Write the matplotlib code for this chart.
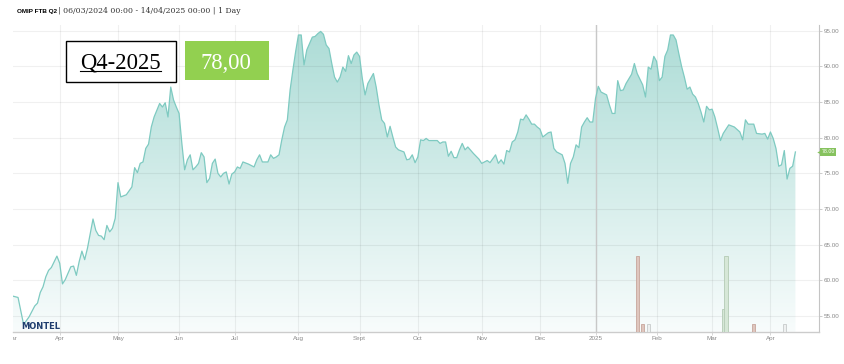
import numpy as np
import matplotlib
matplotlib.use('Agg')
import matplotlib.pyplot as plt
from matplotlib.colors import LinearSegmentedColormap
from matplotlib.patches import PathPatch, Rectangle
from matplotlib.lines import Line2D
from matplotlib.ticker import FormatStrFormatter
from matplotlib.transforms import Bbox

# trading calendar (axis is ordinal: one slot per trading day)
holidays = ['2024-03-29', '2024-04-01', '2024-05-01',
            '2024-12-25', '2024-12-26', '2025-01-01']

dates = [
    '2024-03-06', '2024-03-08', '2024-03-12', '2024-03-14', '2024-03-18', '2024-03-19',
    '2024-03-20', '2024-03-21', '2024-03-22', '2024-03-25', '2024-03-26', '2024-03-28',
    '2024-04-02', '2024-04-03', '2024-04-04', '2024-04-08', '2024-04-09', '2024-04-10',
    '2024-04-11', '2024-04-12', '2024-04-15', '2024-04-16', '2024-04-18', '2024-04-19',
    '2024-04-22', '2024-04-23', '2024-04-24', '2024-04-25', '2024-04-26', '2024-04-29',
    '2024-04-30',
    '2024-05-02', '2024-05-03', '2024-05-07', '2024-05-09', '2024-05-10', '2024-05-13',
    '2024-05-14', '2024-05-15', '2024-05-16', '2024-05-17', '2024-05-20', '2024-05-21',
    '2024-05-23', '2024-05-24', '2024-05-27', '2024-05-28', '2024-05-29', '2024-05-30',
    '2024-05-31',
    '2024-06-03', '2024-06-04', '2024-06-05', '2024-06-06', '2024-06-07', '2024-06-10',
    '2024-06-11', '2024-06-12', '2024-06-13', '2024-06-14', '2024-06-17', '2024-06-18',
    '2024-06-19', '2024-06-20', '2024-06-21', '2024-06-24', '2024-06-25', '2024-06-26',
    '2024-06-27', '2024-06-28',
    '2024-07-01', '2024-07-02', '2024-07-03', '2024-07-04', '2024-07-08', '2024-07-10',
    '2024-07-11', '2024-07-12', '2024-07-15', '2024-07-17', '2024-07-18', '2024-07-19',
    '2024-07-22', '2024-07-23', '2024-07-24', '2024-07-25', '2024-07-26', '2024-07-29',
    '2024-07-30', '2024-07-31',
    '2024-08-01', '2024-08-02', '2024-08-05', '2024-08-06', '2024-08-07', '2024-08-08',
    '2024-08-09', '2024-08-12', '2024-08-13', '2024-08-14', '2024-08-15', '2024-08-16',
    '2024-08-19', '2024-08-20', '2024-08-21', '2024-08-22', '2024-08-23', '2024-08-26',
    '2024-08-27', '2024-08-28', '2024-08-29', '2024-08-30',
    '2024-09-02', '2024-09-03', '2024-09-04', '2024-09-05', '2024-09-09', '2024-09-10',
    '2024-09-11', '2024-09-12', '2024-09-13', '2024-09-16', '2024-09-17', '2024-09-18',
    '2024-09-19', '2024-09-20', '2024-09-24', '2024-09-25', '2024-09-26', '2024-09-27',
    '2024-09-30',
    '2024-10-01', '2024-10-02', '2024-10-03', '2024-10-04', '2024-10-07', '2024-10-10',
    '2024-10-11', '2024-10-14', '2024-10-15', '2024-10-16', '2024-10-17', '2024-10-18',
    '2024-10-21', '2024-10-22', '2024-10-23', '2024-10-24', '2024-10-25', '2024-10-29',
    '2024-10-31',
    '2024-11-01', '2024-11-05', '2024-11-06', '2024-11-08', '2024-11-11', '2024-11-12',
    '2024-11-13', '2024-11-14', '2024-11-15', '2024-11-18', '2024-11-19', '2024-11-20',
    '2024-11-21', '2024-11-22', '2024-11-25', '2024-11-26', '2024-11-27', '2024-11-28',
    '2024-11-29',
    '2024-12-02', '2024-12-03', '2024-12-05', '2024-12-06', '2024-12-09', '2024-12-10',
    '2024-12-12', '2024-12-13', '2024-12-16', '2024-12-17', '2024-12-18', '2024-12-19',
    '2024-12-20', '2024-12-23', '2024-12-24', '2024-12-27', '2024-12-30', '2024-12-31',
    '2025-01-02', '2025-01-03', '2025-01-06', '2025-01-08', '2025-01-09', '2025-01-10',
    '2025-01-13', '2025-01-14', '2025-01-15', '2025-01-16', '2025-01-17', '2025-01-21',
    '2025-01-22', '2025-01-23', '2025-01-24', '2025-01-27', '2025-01-28', '2025-01-29',
    '2025-01-30', '2025-01-31',
    '2025-02-03', '2025-02-04', '2025-02-05', '2025-02-06', '2025-02-07', '2025-02-10',
    '2025-02-11', '2025-02-12', '2025-02-13', '2025-02-14', '2025-02-17', '2025-02-18',
    '2025-02-19', '2025-02-20', '2025-02-21', '2025-02-24', '2025-02-25', '2025-02-26',
    '2025-02-27', '2025-02-28',
    '2025-03-03', '2025-03-04', '2025-03-05', '2025-03-06', '2025-03-07', '2025-03-11',
    '2025-03-13', '2025-03-17', '2025-03-18', '2025-03-19', '2025-03-20', '2025-03-24',
    '2025-03-25', '2025-03-27', '2025-03-28', '2025-03-31',
    '2025-04-01', '2025-04-02', '2025-04-03', '2025-04-04', '2025-04-07', '2025-04-08',
    '2025-04-09', '2025-04-10', '2025-04-11', '2025-04-14',
]

prices = [
    57.8, 57.6, 53.8, 54.9, 56.4, 56.8, 58.3, 59.1, 60.5, 61.4, 61.8, 63.4,
    62.4, 59.5, 60.1, 61.9, 62.0, 60.7, 62.6, 64.1, 62.9, 64.5, 68.6, 67.0,
    66.3, 66.2, 65.7, 67.7, 66.8, 67.3, 68.7,
    73.7, 71.7, 72.0, 73.1, 75.8, 75.1, 76.4, 76.6, 78.5, 79.1, 81.5, 82.9,
    84.8, 84.3, 84.9, 82.9, 87.1, 85.3, 84.3,
    83.4, 79.2, 75.5, 76.9, 77.6, 75.5, 75.9, 76.4, 77.9, 77.3, 73.7, 74.3,
    76.4, 77.0, 75.0, 74.5, 75.0, 75.2, 73.5, 74.9,
    75.2, 75.9, 75.7, 76.6, 76.3, 75.9, 76.9, 77.6, 76.6, 76.6, 77.6, 77.1,
    77.3, 77.6, 79.7, 81.5, 82.5, 86.7, 89.5, 92.1,
    94.4, 94.4, 90.2, 92.3, 93.2, 94.1, 94.2, 94.6, 94.9, 94.5, 93.0, 92.5,
    90.4, 88.5, 87.8, 88.5, 89.9, 89.3, 91.5, 90.4, 91.6, 92.0,
    91.4, 88.3, 86.0, 87.6, 89.0, 87.1, 84.6, 82.5, 82.0, 80.1, 81.6, 80.1,
    78.7, 78.3, 78.0, 76.9, 77.0, 77.6, 76.5,
    77.3, 79.7, 79.6, 79.9, 79.6, 79.6, 79.2, 79.4, 79.4, 77.4, 78.1, 77.2,
    77.2, 78.3, 79.2, 78.3, 78.7, 77.8, 77.0,
    76.4, 76.8, 76.5, 77.6, 76.4, 76.9, 76.3, 78.2, 78.0, 79.4, 79.7, 80.8,
    82.6, 82.5, 83.2, 82.6, 81.9, 81.9, 81.5,
    81.2, 80.1, 80.7, 80.8, 78.5, 78.0, 77.6, 76.4, 73.6, 76.4, 77.3, 79.0,
    78.6, 81.5, 82.2, 82.8, 82.2, 82.2,
    85.5, 87.2, 86.4, 86.0, 84.6, 83.4, 83.4, 88.0, 86.6, 86.7, 87.6, 88.9,
    90.4, 89.0, 88.2, 87.4, 85.7, 89.9, 89.6, 91.4,
    90.7, 88.0, 88.5, 91.4, 92.3, 94.4, 94.4, 93.7, 91.8, 90.0, 88.5, 86.8,
    87.1, 86.1, 85.7, 84.8, 83.6, 82.2, 84.4, 83.9,
    84.0, 82.9, 81.3, 79.6, 80.6, 81.8, 81.5, 80.8, 79.7, 82.5, 81.9, 81.9,
    80.6, 80.5, 80.6, 79.8,
    80.8, 79.9, 78.5, 76.0, 76.2, 78.2, 74.2, 75.7, 76.0, 78.0,
]

# traded volume bars (relative units)
vol_dates = ['2025-01-23', '2025-01-27', '2025-01-29', '2025-03-07',
             '2025-03-10', '2025-03-24', '2025-04-08']
volumes = [10, 1, 1, 3, 10, 1, 1]
vol_side = ['sell', 'sell', 'other', 'buy', 'buy', 'sell', 'other']

month_starts = ['2024-04-01', '2024-05-01', '2024-06-01', '2024-07-01', '2024-08-01',
                '2024-09-01', '2024-10-01', '2024-11-01', '2024-12-01', '2025-01-01',
                '2025-02-01', '2025-03-01', '2025-04-01']
month_labels = ['Apr', 'May', 'Jun', 'Jul', 'Aug', 'Sept', 'Oct', 'Nov', 'Dec',
                '2025', 'Feb', 'Mar', 'Apr']

contract = 'Q4-2025'
last_price = '78,00'
title_bold = 'OMIP FTB Q2'
title_rest = '| 06/03/2024 00:00 - 14/04/2025 00:00 | 1 Day'


def trading_index(d):
    d = np.array(d, dtype='datetime64[D]')
    return np.busday_count(np.datetime64(dates[0]), d, holidays=holidays)


x = trading_index(dates)
vx = trading_index(vol_dates)
first_days = np.busday_offset(np.array(month_starts, dtype='datetime64[D]'), 0,
                              roll='forward', holidays=holidays)
tick_x = np.busday_count(np.datetime64(dates[0]), first_days, holidays=holidays)

W, H = 844, 364
fig = plt.figure(figsize=(W / 100, H / 100), dpi=100)
ax = fig.add_axes([12.5 / W, (H - 331.7) / H, (819 - 12.5) / W, (331.7 - 25) / H])
# volume bars live on their own hidden scale
ax2 = ax.twinx()

ymin, ymax = 52.8, 95.8
xmax = 290.5

# gradient area under the line
fill = ax.fill_between(x, prices, ymin, facecolor='none', edgecolor='none')
clip = PathPatch(fill.get_paths()[0], transform=ax.transData,
                 facecolor='none', edgecolor='none')
ax.add_patch(clip)
cmap = LinearSegmentedColormap.from_list('area', ['#f8fcfc', '#acdcd6'])
grad = np.linspace(0, 1, 256).reshape(-1, 1)
img = ax.imshow(grad, extent=[x[0], x[-1], ymin, ymax], origin='lower',
                aspect='auto', cmap=cmap, zorder=1)
img.set_clip_path(clip)

ax.plot(x, prices, color='#7ecac1', lw=0.9, zorder=3)
ax.axvline(tick_x[month_labels.index('2025')], color='#c8c8c8', lw=1.0, zorder=2.6)

ax.set_xlim(0, xmax)
ax.set_ylim(ymin, ymax)

ax.set_xticks(tick_x)
ax.set_xticklabels(month_labels)
ax.set_yticks(range(55, 96, 5))
ax.yaxis.set_major_formatter(FormatStrFormatter('%.2f'))
ax.yaxis.tick_right()
ax.grid(True, color='black', alpha=0.06, lw=0.8)
ax.set_axisbelow(False)

for s in ['top', 'left']:
    ax.spines[s].set_visible(False)
ax.spines['right'].set_color('#c4c4c4')
ax.spines['right'].set_linewidth(0.8)
ax.spines['bottom'].set_color('#cccccc')
ax.spines['bottom'].set_linewidth(1.0)

ax.tick_params(axis='y', length=2, width=0.6, color='#c4c4c4', pad=1.5,
               labelsize=4.5, labelcolor='#8a8a8a')
ax.tick_params(axis='x', length=2, width=0.6, color='#d0d0d0', pad=0.8,
               labelsize=4.5, labelcolor='#8a8a8a')
for t in ax.get_xticklabels() + ax.yaxis.get_ticklabels(which='major'):
    t.set_family('Liberation Sans')
for tk in ax.yaxis.get_major_ticks():
    tk.label2.set_family('Liberation Sans')

ax2.set_ylim(0, 40.4)
ax2.axis('off')
side_colors = {'sell': ('#dfc6be', '#c7a69c'),
               'buy': ('#d6e7d7', '#b4cbb5'),
               'other': ('#eef0f0', '#c6caca')}
for bx, bv, bs in zip(vx, volumes, vol_side):
    fc, ec = side_colors[bs]
    ax2.bar(bx, bv, width=1.1, color=fc, edgecolor=ec, lw=0.6)
ax2.set_xlim(0, xmax)

# last price tag on the right axis
ax.annotate(f'{prices[-1]:.2f}', xy=(1, prices[-1]), xycoords=('axes fraction', 'data'),
            xytext=(9, 0), textcoords='offset pixels', ha='center', va='center',
            fontsize=3.8, color='white', family='Liberation Sans',
            bbox=dict(boxstyle='square,pad=0.25', fc='#86c25e', ec='none'),
            annotation_clip=False, zorder=5)
ax.plot([1.0], [prices[-1]], marker='<', ms=3.2, color='#86c25e', mec='none',
        transform=ax.get_yaxis_transform(), clip_on=False, zorder=5)

# partially hidden "Mar" label at the far left
mar = fig.text(17.5 / W, (H - 335.6) / H, 'Mar', ha='right', va='top',
               fontsize=4.5, color='#8a8a8a', family='Liberation Sans')
mar.set_clip_box(Bbox.from_extents(12.5, 0, W, H))
mar.set_clip_on(True)

# header
tb = fig.text(17 / W, (H - 11) / H, title_bold, fontsize=4.6, fontweight='bold',
              family='Liberation Sans', va='center', ha='left')
fig.canvas.draw()
bb = tb.get_window_extent()
fig.text((bb.x1 + 1.5) / W, (H - 11) / H, title_rest, fontsize=5.6,
         family='DejaVu Serif', va='center', ha='left', color='#333333')

# MONTEL logo text
fig.text(21.7 / W, (H - 326.3) / H, 'MONTEL', fontsize=6, fontweight='bold',
         family='DejaVu Sans', color='#1f3d6e', va='center', ha='left')

# contract label box and price box
fig.patches.append(Rectangle((66 / W, (H - 82.3) / H), 109.7 / W, 41.3 / H,
                             transform=fig.transFigure, facecolor='white',
                             edgecolor='black', lw=1.0, zorder=4))
fig.patches.append(Rectangle((185 / W, (H - 80) / H), 83.7 / W, 39 / H,
                             transform=fig.transFigure, facecolor='#92d050',
                             edgecolor='none', zorder=4))
tq = fig.text(120.8 / W, (H - 69) / H, contract, fontsize=16.3, family='Liberation Serif',
              ha='center', va='baseline', color='black', zorder=5)
fig.text(226.0 / W, (H - 69) / H, last_price, fontsize=16.3, family='Liberation Serif',
         ha='center', va='baseline', color='white', zorder=5)
fig.canvas.draw()
qb = tq.get_window_extent()
fig.lines.append(Line2D([qb.x0 / W, qb.x1 / W], [(H - 70.8) / H, (H - 70.8) / H],
                        transform=fig.transFigure, color='black', lw=0.8, zorder=6))

fig.savefig('out.png', dpi=100)
